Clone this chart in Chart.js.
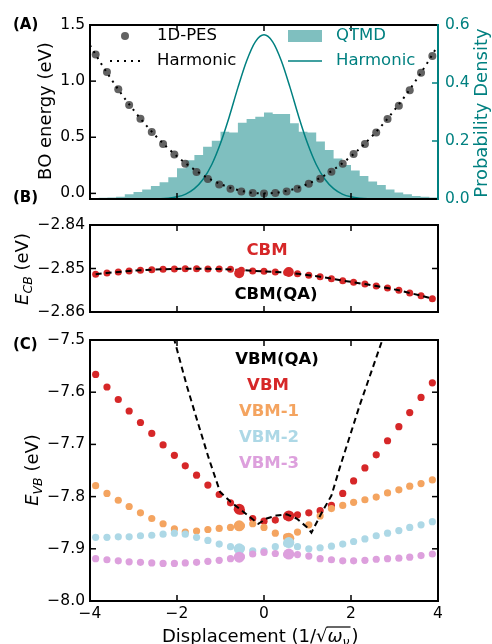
<!DOCTYPE html>
<html>
<head>
<meta charset="utf-8">
<script src="https://cdn.jsdelivr.net/npm/chart.js@4.4.1/dist/chart.umd.min.js"></script>
<style>
  body { margin: 0; background: #fff; }
  #quadro { position: relative; width: 492px; height: 644px; overflow: hidden; }
  #quadro canvas { position: absolute; left: 0; top: 0; }
</style>
</head>
<body>
<div id="quadro">
  <canvas id="painelA" width="492" height="644"></canvas>
  <canvas id="painelB" width="492" height="644"></canvas>
  <canvas id="painelC" width="492" height="644"></canvas>
</div>
<script>
// grade de deslocamentos (1/sqrt(w))
const deslocamento = [-3.87, -3.61, -3.35, -3.10, -2.84, -2.58, -2.32, -2.06, -1.81, -1.55, -1.29, -1.03, -0.77, -0.52, -0.26, 0.00,
  0.26, 0.52, 0.77, 1.03, 1.29, 1.55, 1.81, 2.06, 2.32, 2.58, 2.84, 3.10, 3.35, 3.61, 3.87];

// painel A
const pesEnergia = [1.238, 1.081, 0.927, 0.787, 0.665, 0.546, 0.440, 0.347, 0.264, 0.190, 0.128, 0.080, 0.042, 0.016, 0.004, 0.000,
  0.004, 0.016, 0.042, 0.086, 0.131, 0.193, 0.264, 0.350, 0.440, 0.543, 0.662, 0.781, 0.918, 1.075, 1.224];
const harmX = [-4, -3.75, -3.5, -3.25, -3, -2.75, -2.5, -2.25, -2, -1.75, -1.5, -1.25, -1, -0.75, -0.5, -0.25, 0,
  0.25, 0.5, 0.75, 1, 1.25, 1.5, 1.75, 2, 2.25, 2.5, 2.75, 3, 3.25, 3.5, 3.75, 4];
const harmEnergia = [1.320, 1.160, 1.011, 0.871, 0.743, 0.624, 0.516, 0.418, 0.330, 0.253, 0.186, 0.129, 0.083, 0.046, 0.021, 0.005, 0,
  0.005, 0.021, 0.046, 0.083, 0.129, 0.186, 0.253, 0.330, 0.418, 0.516, 0.624, 0.743, 0.871, 1.011, 1.160, 1.320];
const gaussX = [-4, -3.8, -3.6, -3.4, -3.2, -3, -2.8, -2.6, -2.4, -2.2, -2, -1.8, -1.6, -1.4, -1.2, -1, -0.8, -0.6, -0.4, -0.2, 0,
  0.2, 0.4, 0.6, 0.8, 1, 1.2, 1.4, 1.6, 1.8, 2, 2.2, 2.4, 2.6, 2.8, 3, 3.2, 3.4, 3.6, 3.8, 4];
const gaussDens = [0, 0, 0, 0, 0, 0, 0.0001, 0.0004, 0.0011, 0.0030, 0.0075, 0.0170, 0.0356, 0.068, 0.119, 0.192, 0.283, 0.384, 0.476, 0.542, 0.566,
  0.542, 0.476, 0.384, 0.283, 0.192, 0.119, 0.068, 0.0356, 0.0170, 0.0075, 0.0030, 0.0011, 0.0004, 0.0001, 0, 0, 0, 0, 0, 0];
const histBordas = [-4.0, -3.8, -3.6, -3.4, -3.2, -3.0, -2.8, -2.6, -2.4, -2.2, -2.0, -1.8, -1.6, -1.4, -1.2, -1.0, -0.8, -0.6, -0.4, -0.2,
  0.0, 0.2, 0.4, 0.6, 0.8, 1.0, 1.2, 1.4, 1.6, 1.8, 2.0, 2.2, 2.4, 2.6, 2.8, 3.0, 3.2, 3.4, 3.6, 3.8, 4.0];
const histDens = [0.003, 0.004, 0.005, 0.008, 0.016, 0.024, 0.033, 0.045, 0.058, 0.075, 0.106, 0.134, 0.152, 0.180, 0.201, 0.232, 0.229, 0.263, 0.276, 0.284,
  0.298, 0.293, 0.293, 0.261, 0.232, 0.229, 0.198, 0.169, 0.140, 0.117, 0.098, 0.079, 0.060, 0.048, 0.033, 0.022, 0.016, 0.010, 0.008, 0.005];

// painel B
const cbm = [-2.85134, -2.85103, -2.85080, -2.85057, -2.85041, -2.85026, -2.85019, -2.85011, -2.85003, -2.85003, -2.85011, -2.85011, -2.85019, -2.85040, -2.85057, -2.85065,
  -2.85080, -2.85090, -2.85120, -2.85157, -2.85188, -2.85234, -2.85280, -2.85318, -2.85356, -2.85402, -2.85448, -2.85502, -2.85563, -2.85625, -2.85694];
const cbmQA = [-2.85130, -2.85102, -2.85079, -2.85058, -2.85041, -2.85027, -2.85018, -2.85011, -2.85005, -2.85004, -2.85008, -2.85013, -2.85022, -2.85036, -2.85052, -2.85066,
  -2.85080, -2.85094, -2.85118, -2.85155, -2.85190, -2.85232, -2.85278, -2.85318, -2.85358, -2.85402, -2.85450, -2.85502, -2.85562, -2.85625, -2.85692];
const grandesX = [-0.57, 0.57];
const cbmGrande = [-2.8511, -2.8508];

// painel C
const vbm = [-7.566, -7.590, -7.614, -7.636, -7.658, -7.679, -7.701, -7.721, -7.741, -7.759, -7.778, -7.796, -7.812, -7.828, -7.842, -7.847,
  -7.845, -7.838, -7.835, -7.831, -7.827, -7.817, -7.794, -7.770, -7.745, -7.720, -7.693, -7.666, -7.639, -7.610, -7.582];
const vbm1 = [-7.779, -7.794, -7.807, -7.819, -7.831, -7.842, -7.852, -7.862, -7.868, -7.866, -7.863, -7.861, -7.859, -7.856, -7.852, -7.859,
  -7.870, -7.877, -7.868, -7.854, -7.837, -7.823, -7.817, -7.811, -7.806, -7.801, -7.793, -7.787, -7.780, -7.775, -7.768];
const vbm2 = [-7.878, -7.878, -7.877, -7.877, -7.875, -7.874, -7.872, -7.870, -7.872, -7.878, -7.884, -7.891, -7.896, -7.899, -7.904, -7.904,
  -7.896, -7.890, -7.896, -7.900, -7.898, -7.895, -7.891, -7.886, -7.881, -7.875, -7.870, -7.865, -7.859, -7.854, -7.848];
const vbm3 = [-7.919, -7.921, -7.923, -7.925, -7.926, -7.927, -7.928, -7.928, -7.927, -7.926, -7.924, -7.922, -7.919, -7.915, -7.910, -7.907,
  -7.909, -7.911, -7.911, -7.914, -7.919, -7.921, -7.923, -7.923, -7.922, -7.920, -7.919, -7.918, -7.916, -7.913, -7.910];
const vbmGrande = [-7.824, -7.837];
const vbm1Grande = [-7.856, -7.880];
const vbm2Grande = [-7.900, -7.888];
const vbm3Grande = [-7.916, -7.910];
const vbmQAX = [-2.25, -2.06, -1.77, -1.54, -1.28, -1.01, -0.77, -0.52, -0.13, 0.06, 0.29, 0.52, 0.75, 0.98, 1.09, 1.32, 1.55, 1.74, 1.97, 2.20, 2.45, 2.72, 2.90];
const vbmQA = [-7.440, -7.500, -7.589, -7.653, -7.724, -7.791, -7.810, -7.826, -7.852, -7.842, -7.836, -7.834, -7.842, -7.858, -7.869, -7.832, -7.798, -7.745, -7.685, -7.625, -7.565, -7.500, -7.455];

// ticks
const ticksX = [-4, -2, 0, 2, 4];
const ticksA = [0, 0.5, 1.0, 1.5];
const ticksA2 = [0, 0.2, 0.4, 0.6];
const ticksB = [-2.86, -2.85, -2.84];
const ticksC = [-8.0, -7.9, -7.8, -7.7, -7.6, -7.5];

const teal = '#008080';
const vermelho = '#d62728';
const laranja = '#f4a460';
const azulClaro = '#add8e6';
const ameixa = '#dda0dd';
const familia = '"DejaVu Sans"';

function fmt(v, casas) {
  return v.toFixed(casas).replace('-', '\u2212');
}

function pares(xs, ys) {
  return xs.map((x, i) => ({ x: x, y: ys[i] }));
}

function linha(ctx, x1, y1, x2, y2) {
  ctx.beginPath();
  ctx.moveTo(x1, y1);
  ctx.lineTo(x2, y2);
  ctx.stroke();
}

function textoRotacionado(ctx, cx, cy, partes, cor) {
  ctx.save();
  ctx.translate(cx, cy);
  ctx.rotate(-Math.PI / 2);
  ctx.fillStyle = cor;
  ctx.textAlign = 'left';
  ctx.textBaseline = 'alphabetic';
  let total = 0;
  partes.forEach(p => { ctx.font = p.f; p.w = ctx.measureText(p.t).width; total += p.w; });
  let x = -total / 2;
  partes.forEach(p => { ctx.font = p.f; ctx.fillText(p.t, x, 6 + (p.dy || 0)); x += p.w; });
  ctx.restore();
}

function textoCentro(ctx, t, x, y, cor, fonte) {
  ctx.font = fonte;
  ctx.fillStyle = cor;
  ctx.textAlign = 'center';
  ctx.textBaseline = 'middle';
  ctx.fillText(t, x, y);
}

function textoEsq(ctx, t, x, y, cor, fonte) {
  ctx.font = fonte;
  ctx.fillStyle = cor;
  ctx.textAlign = 'left';
  ctx.textBaseline = 'middle';
  ctx.fillText(t, x, y);
}

// moldura com ticks para dentro + textos extras
function moldura(cfg) {
  return {
    id: 'moldura',
    afterDraw(chart) {
      const ctx = chart.ctx;
      const a = chart.chartArea;
      const sx = chart.scales.x;
      const sy = chart.scales.y;
      ctx.save();
      ctx.lineWidth = 1.5;
      ctx.strokeStyle = '#000';
      ticksX.forEach(v => {
        const p = sx.getPixelForValue(v);
        linha(ctx, p, a.top, p, a.top + 6);
        linha(ctx, p, a.bottom, p, a.bottom - 6);
      });
      cfg.ticksY.forEach(v => {
        const p = sy.getPixelForValue(v);
        linha(ctx, a.left, p, a.left + 6, p);
        if (!cfg.direita) linha(ctx, a.right, p, a.right - 6, p);
      });
      if (cfg.direita) {
        ctx.strokeStyle = teal;
        cfg.direita.forEach(v => {
          const p = chart.scales.y2.getPixelForValue(v);
          linha(ctx, a.right, p, a.right - 6, p);
        });
      }
      ctx.lineWidth = 2;
      ctx.strokeStyle = '#000';
      ctx.strokeRect(a.left, a.top, a.right - a.left, a.bottom - a.top);
      if (cfg.direita) {
        ctx.strokeStyle = teal;
        linha(ctx, a.right, a.top - 1, a.right, a.bottom + 1);
      }
      cfg.textos(ctx, a);
      ctx.restore();
    }
  };
}

function eixoY(min, max, ticks, casas, largura, cor, posicao) {
  return {
    type: 'linear',
    position: posicao || 'left',
    min: min,
    max: max,
    afterBuildTicks: s => { s.ticks = ticks.map(v => ({ value: v })); },
    afterFit: s => { s.width = largura; },
    grid: { display: false, drawTicks: false },
    border: { display: false },
    ticks: {
      callback: v => fmt(v, casas),
      color: cor || '#000',
      font: { family: familia, size: 15.5 },
      padding: posicao === 'right' ? 7 : 5,
      autoSkip: false
    }
  };
}

function eixoX(comRotulos) {
  return {
    type: 'linear',
    min: -4,
    max: 4,
    afterBuildTicks: s => { s.ticks = ticksX.map(v => ({ value: v })); },
    afterFit: s => { s.height = comRotulos ? 43 : 0; },
    grid: { display: false, drawTicks: false },
    border: { display: false },
    ticks: {
      display: comRotulos,
      callback: v => fmt(v, 0),
      color: '#000',
      font: { family: familia, size: 15.5 },
      padding: 4,
      autoSkip: false,
      maxRotation: 0
    }
  };
}

const fonteRotulo = '18px ' + familia;
const fonteNegrito = 'bold 16.5px ' + familia;
const fontePainel = 'bold 15px ' + familia;
const fonteLegenda = '16.5px ' + familia;

// ---------- painel A ----------
new Chart(document.getElementById('painelA'), {
  type: 'line',
  data: {
    datasets: [{
      label: 'QTMD',
      data: histBordas.map((x, i) => ({ x: x, y: histDens[Math.min(i, histDens.length - 1)] })),
      yAxisID: 'y2',
      stepped: true,
      fill: 'origin',
      backgroundColor: 'rgba(0,128,128,0.5)',
      borderWidth: 0,
      pointRadius: 0,
      order: 4
    }, {
      label: 'Harmonic',
      data: pares(gaussX, gaussDens),
      yAxisID: 'y2',
      borderColor: teal,
      borderWidth: 1.5,
      pointRadius: 0,
      cubicInterpolationMode: 'monotone',
      fill: false,
      order: 3
    }, {
      label: '1D-PES',
      data: pares(deslocamento, pesEnergia),
      yAxisID: 'y',
      showLine: false,
      pointRadius: 4,
      pointBackgroundColor: 'rgba(70,70,70,0.85)',
      pointBorderWidth: 0,
      order: 2
    }, {
      label: 'Harmonic',
      data: pares(harmX, harmEnergia),
      yAxisID: 'y',
      borderColor: '#000',
      borderWidth: 2,
      borderDash: [2, 5],
      pointRadius: 0,
      cubicInterpolationMode: 'monotone',
      fill: false,
      order: 1
    }]
  },
  options: {
    responsive: false,
    animation: false,
    layout: { padding: { top: 25, bottom: 445, left: 0, right: 0 } },
    plugins: { legend: { display: false }, tooltip: { enabled: false } },
    scales: {
      x: eixoX(false),
      y: eixoY(-0.05, 1.5, ticksA, 1, 90, '#000', 'left'),
      y2: eixoY(0, 0.6, ticksA2, 1, 54, teal, 'right')
    }
  },
  plugins: [moldura({
    ticksY: ticksA,
    direita: ticksA2,
    textos: (ctx, a) => {
      textoEsq(ctx, '(A)', 13, 25, '#000', fontePainel);
      textoEsq(ctx, '(B)', 13, 198, '#000', fontePainel);
      textoRotacionado(ctx, 45, 111, [{ t: 'BO energy (eV)', f: fonteRotulo }], '#000');
      textoRotacionado(ctx, 481, 113, [{ t: 'Probability Density', f: fonteRotulo }], teal);
      // legenda esquerda
      ctx.fillStyle = 'rgba(70,70,70,0.85)';
      ctx.beginPath();
      ctx.arc(125, 36, 4, 0, Math.PI * 2);
      ctx.fill();
      textoEsq(ctx, '1D-PES', 157, 36, '#000', fonteLegenda);
      ctx.strokeStyle = '#000';
      ctx.lineWidth = 2;
      ctx.setLineDash([2, 5]);
      linha(ctx, 110, 61, 143, 61);
      ctx.setLineDash([]);
      textoEsq(ctx, 'Harmonic', 157, 61, '#000', fonteLegenda);
      // legenda direita
      ctx.fillStyle = 'rgba(0,128,128,0.5)';
      ctx.fillRect(288, 30, 34, 12);
      textoEsq(ctx, 'QTMD', 336, 36, teal, fonteLegenda);
      ctx.strokeStyle = teal;
      ctx.lineWidth = 1.5;
      linha(ctx, 288, 61, 322, 61);
      textoEsq(ctx, 'Harmonic', 336, 61, teal, fonteLegenda);
    }
  })]
});

// ---------- painel B ----------
new Chart(document.getElementById('painelB'), {
  type: 'line',
  data: {
    datasets: [{
      label: 'CBM(QA)',
      data: pares(deslocamento, cbmQA),
      borderColor: '#000',
      borderWidth: 2,
      borderDash: [6, 4],
      pointRadius: 0,
      fill: false,
      order: 1
    }, {
      label: 'CBM',
      data: pares(deslocamento, cbm),
      showLine: false,
      pointRadius: 3.5,
      pointBackgroundColor: vermelho,
      pointBorderWidth: 0,
      order: 2
    }, {
      label: 'CBM grande',
      data: pares(grandesX, cbmGrande),
      showLine: false,
      pointRadius: 5,
      pointBackgroundColor: vermelho,
      pointBorderWidth: 0,
      order: 0
    }]
  },
  options: {
    responsive: false,
    animation: false,
    layout: { padding: { top: 225, bottom: 332, left: 0, right: 54 } },
    plugins: { legend: { display: false }, tooltip: { enabled: false } },
    scales: {
      x: eixoX(false),
      y: eixoY(-2.86, -2.84, ticksB, 2, 90, '#000', 'left')
    }
  },
  plugins: [moldura({
    ticksY: ticksB,
    textos: (ctx, a) => {
      textoCentro(ctx, 'CBM', 267, 251, vermelho, fonteNegrito);
      textoCentro(ctx, 'CBM(QA)', 276, 295, '#000', fonteNegrito);
      textoRotacionado(ctx, 22, 269, [
        { t: 'E', f: 'italic 18px ' + familia },
        { t: 'CB', f: 'italic 12.5px ' + familia, dy: 4 },
        { t: ' (eV)', f: fonteRotulo }
      ], '#000');
    }
  })]
});

// ---------- painel C ----------
const pontosC = [
  { nome: 'VBM', ys: vbm, g: vbmGrande, cor: vermelho },
  { nome: 'VBM-1', ys: vbm1, g: vbm1Grande, cor: laranja },
  { nome: 'VBM-2', ys: vbm2, g: vbm2Grande, cor: azulClaro },
  { nome: 'VBM-3', ys: vbm3, g: vbm3Grande, cor: ameixa }
];
const datasetsC = [{
  label: 'VBM(QA)',
  data: pares(vbmQAX, vbmQA),
  borderColor: '#000',
  borderWidth: 2,
  borderDash: [6, 4],
  pointRadius: 0,
  fill: false,
  clip: 0,
  order: 0
}];
pontosC.forEach((p, i) => {
  datasetsC.push({
    label: p.nome,
    data: pares(deslocamento, p.ys),
    showLine: false,
    pointRadius: 3.6,
    pointBackgroundColor: p.cor,
    pointBorderWidth: 0,
    order: 10 - i
  });
  datasetsC.push({
    label: p.nome + ' grande',
    data: pares(grandesX, p.g),
    showLine: false,
    pointRadius: 5.5,
    pointBackgroundColor: p.cor,
    pointBorderWidth: 0,
    order: 5 - i
  });
});

new Chart(document.getElementById('painelC'), {
  type: 'line',
  data: { datasets: datasetsC },
  options: {
    responsive: false,
    animation: false,
    layout: { padding: { top: 340, bottom: 0, left: 0, right: 54 } },
    plugins: { legend: { display: false }, tooltip: { enabled: false } },
    scales: {
      x: eixoX(true),
      y: eixoY(-8.0, -7.5, ticksC, 1, 90, '#000', 'left')
    }
  },
  plugins: [moldura({
    ticksY: ticksC,
    textos: (ctx, a) => {
      textoEsq(ctx, '(C)', 13, 345, '#000', fontePainel);
      textoCentro(ctx, 'VBM(QA)', 277, 360, '#000', fonteNegrito);
      pontosC.forEach((p, i) => {
        textoCentro(ctx, p.nome, p.nome === 'VBM' ? 268 : 269, 386 + i * 26, p.cor, fonteNegrito);
      });
      textoRotacionado(ctx, 32, 470, [
        { t: 'E', f: 'italic 18px ' + familia },
        { t: 'VB', f: 'italic 12.5px ' + familia, dy: 4 },
        { t: ' (eV)', f: fonteRotulo }
      ], '#000');
      // titulo do eixo x com raiz
      const base = 642;
      let x = 162;
      ctx.fillStyle = '#000';
      ctx.textAlign = 'left';
      ctx.textBaseline = 'alphabetic';
      ctx.font = fonteRotulo;
      ctx.fillText('Displacement (1/', x, base);
      x += ctx.measureText('Displacement (1/').width;
      ctx.fillText('\u221A', x, base);
      x += ctx.measureText('\u221A').width;
      const inicioBarra = x;
      ctx.font = 'italic 18px ' + familia;
      ctx.fillText('\u03C9', x, base);
      x += ctx.measureText('\u03C9').width;
      ctx.font = 'italic 12.5px ' + familia;
      ctx.fillText('\u03BD', x, base + 4);
      x += ctx.measureText('\u03BD').width + 1;
      ctx.strokeStyle = '#000';
      ctx.lineWidth = 1.2;
      linha(ctx, inicioBarra - 1, base - 15, x, base - 15);
      ctx.font = fonteRotulo;
      ctx.fillText(')', x + 1, base);
    }
  })]
});
</script>
</body>
</html>
